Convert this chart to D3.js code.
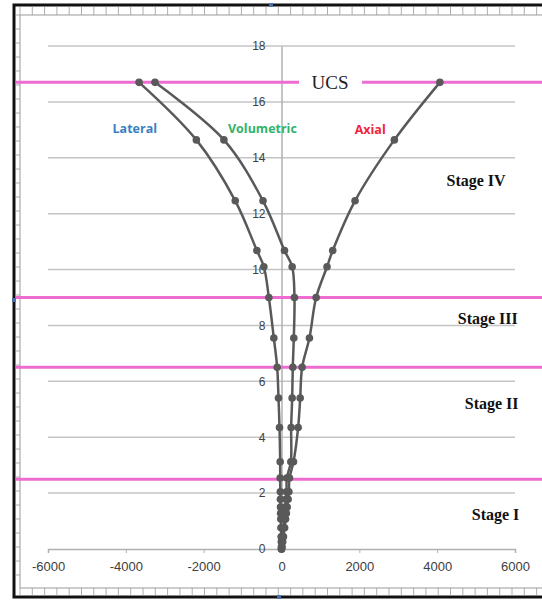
<!DOCTYPE html>
<html>
<head>
<meta charset="utf-8">
<script src="https://cdn.jsdelivr.net/npm/d3@7"></script>
<style>
  html, body { margin: 0; padding: 0; background: #fff; }
  svg { display: block; }
</style>
</head>
<body>
<svg width="542" height="601"></svg>
<script>
// stress levels (MPa) shared by all three strain curves
const stress = [0, 0.08, 0.26, 0.44, 0.76, 1.07, 1.28, 1.5, 1.78, 2.05, 2.54,
  3.12, 4.35, 5.4, 6.5, 7.55, 9.0, 10.1, 10.68, 12.46, 14.64, 16.7];
// microstrain
const lateral = [0, -2, -5, -8, -14, -18, -22, -25, -28, -30, -34,
  -34, -51, -77, -111, -197, -325, -453, -632, -1188, -2188, -3660];
const volumetric = [0, 6, 20, 34, 52, 69, 81, 95, 114, 130, 137,
  240, 248, 274, 290, 316, 333, 274, 77, -475, -1480, -3250];
const axial = [0, 10, 30, 50, 80, 105, 125, 145, 170, 190, 205,
  308, 428, 480, 530, 718, 890, 1170, 1316, 1890, 2900, 4070];

const xTicks = [-6000, -4000, -2000, 0, 2000, 4000, 6000];
const yTicks = [0, 2, 4, 6, 8, 10, 12, 14, 16, 18];
const stageLines = [2.5, 6.5, 9.0, 16.7];
const stages = [
  {name: 'Stage I', y: 1.25, x: 5500},
  {name: 'Stage II', y: 5.2, x: 5400},
  {name: 'Stage III', y: 8.25, x: 5300},
  {name: 'Stage IV', y: 13.2, x: 5000}
];

const svg = d3.select('svg');
const W = 542, H = 601;

const x = d3.scaleLinear().domain([-6000, 6000]).range([48, 515]);
const y = d3.scaleLinear().domain([0, 18]).range([549, 46]);

// chart frame (excel-like border with ruler marks)
const frame = svg.append('g');
frame.append('rect').attr('x', 14).attr('y', 5).attr('width', W).attr('height', 592)
  .attr('fill', 'none').attr('stroke', '#111').attr('stroke-width', 3);
frame.append('line').attr('x1', 20).attr('x2', W).attr('y1', 15).attr('y2', 15)
  .attr('stroke', '#999').attr('stroke-width', 1);
frame.append('line').attr('x1', 20).attr('x2', W).attr('y1', 588).attr('y2', 588)
  .attr('stroke', '#999').attr('stroke-width', 1);
frame.append('line').attr('x1', 20).attr('x2', 20).attr('y1', 15).attr('y2', 588)
  .attr('stroke', '#999').attr('stroke-width', 1);
frame.selectAll('.rt').data(d3.range(20, W, 12.3)).enter().append('line')
  .attr('x1', d => d).attr('x2', d => d).attr('y1', 7).attr('y2', 15)
  .attr('stroke', '#999').attr('stroke-width', 0.8);
frame.selectAll('.rb').data(d3.range(20, W, 12.3)).enter().append('line')
  .attr('x1', d => d).attr('x2', d => d).attr('y1', 588).attr('y2', 595)
  .attr('stroke', '#999').attr('stroke-width', 0.8);
frame.selectAll('.rl').data(d3.range(15, 588, 14)).enter().append('line')
  .attr('x1', 16).attr('x2', 20).attr('y1', d => d).attr('y2', d => d)
  .attr('stroke', '#999').attr('stroke-width', 0.8);
[[271, 5], [279, 597], [14, 300]].forEach(p => {
  frame.append('rect').attr('x', p[0] - 2).attr('y', p[1] - 2)
    .attr('width', 4).attr('height', 4).attr('fill', '#4a6fa5');
});

// gridlines
svg.append('g').selectAll('line').data(yTicks.filter(d => d > 0)).enter().append('line')
  .attr('x1', x(-6000)).attr('x2', x(6000))
  .attr('y1', d => y(d)).attr('y2', d => y(d))
  .attr('stroke', '#c4c4c4').attr('stroke-width', 1.5);

// axes through the origin
const xAxis = svg.append('g').attr('transform', `translate(0,${y(0)})`)
  .call(d3.axisBottom(x).tickValues(xTicks).tickFormat(d => String(d))
    .tickSize(4).tickPadding(9));
xAxis.select('.domain').attr('stroke', '#b0b0b0').attr('stroke-width', 1.5);
xAxis.selectAll('.tick line').attr('stroke', '#b0b0b0');
xAxis.selectAll('.tick text').attr('fill', '#404040')
  .style('font-family', 'Liberation Sans, Arial, sans-serif').style('font-size', '13px');

const yAxis = svg.append('g').attr('transform', `translate(${x(0)},0)`)
  .call(d3.axisLeft(y).tickValues(yTicks).tickFormat(d => String(d))
    .tickSize(0).tickPadding(16));
yAxis.select('.domain').attr('stroke', '#b0b0b0').attr('stroke-width', 1.5);
yAxis.selectAll('.tick text').attr('fill', '#404040')
  .style('font-family', 'Liberation Sans, Arial, sans-serif').style('font-size', '12px');

// stage boundary lines
const pink = '#ee6bd0';
svg.append('g').selectAll('line').data(stageLines).enter().append('line')
  .attr('x1', 16).attr('x2', W)
  .attr('y1', d => y(d)).attr('y2', d => y(d))
  .attr('stroke', pink).attr('stroke-width', 3);

// UCS label with gap in line
svg.append('rect').attr('x', 299).attr('y', y(16.7) - 8).attr('width', 63).attr('height', 16)
  .attr('fill', '#fff');
svg.append('text').attr('x', 330).attr('y', y(16.7)).attr('dy', '0.35em')
  .attr('text-anchor', 'middle').attr('fill', '#222')
  .style('font-family', 'Liberation Serif, Times New Roman, serif').style('font-size', '19px')
  .text('UCS');

// curves (smoothed like the excel scatter)
const line = d3.line().x(d => x(d[0])).y(d => y(d[1])).curve(d3.curveCatmullRom);
const series = [lateral, volumetric, axial];
const curves = svg.append('g');
series.forEach(vals => {
  const pts = vals.map((v, i) => [v, stress[i]]);
  curves.append('path').datum(pts).attr('d', line)
    .attr('fill', 'none').attr('stroke', '#595959').attr('stroke-width', 2.5);
  curves.append('g').selectAll('circle').data(pts).enter().append('circle')
    .attr('cx', d => x(d[0])).attr('cy', d => y(d[1])).attr('r', 3.8)
    .attr('fill', '#595959');
});

// series labels
const labels = [
  {t: 'Lateral', c: '#3a7fc1', x: -3770, y: 15.05},
  {t: 'Volumetric', c: '#2fb36a', x: -490, y: 15.05},
  {t: 'Axial', c: '#f0243c', x: 2280, y: 15.0}
];
svg.append('g').selectAll('text').data(labels).enter().append('text')
  .attr('x', d => x(d.x)).attr('y', d => y(d.y)).attr('dy', '0.35em')
  .attr('text-anchor', 'middle').attr('fill', d => d.c)
  .style('font-family', 'Open Sans, Lato, sans-serif').style('font-weight', 'bold')
  .style('font-size', '12.5px')
  .text(d => d.t);

// stage labels
svg.append('g').selectAll('text').data(stages).enter().append('text')
  .attr('x', d => x(d.x)).attr('y', d => y(d.y)).attr('dy', '0.35em')
  .attr('text-anchor', 'middle').attr('fill', '#111')
  .style('font-family', 'Liberation Serif, Times New Roman, serif').style('font-weight', 'bold')
  .style('font-size', '16px')
  .text(d => d.name);
</script>
</body>
</html>
